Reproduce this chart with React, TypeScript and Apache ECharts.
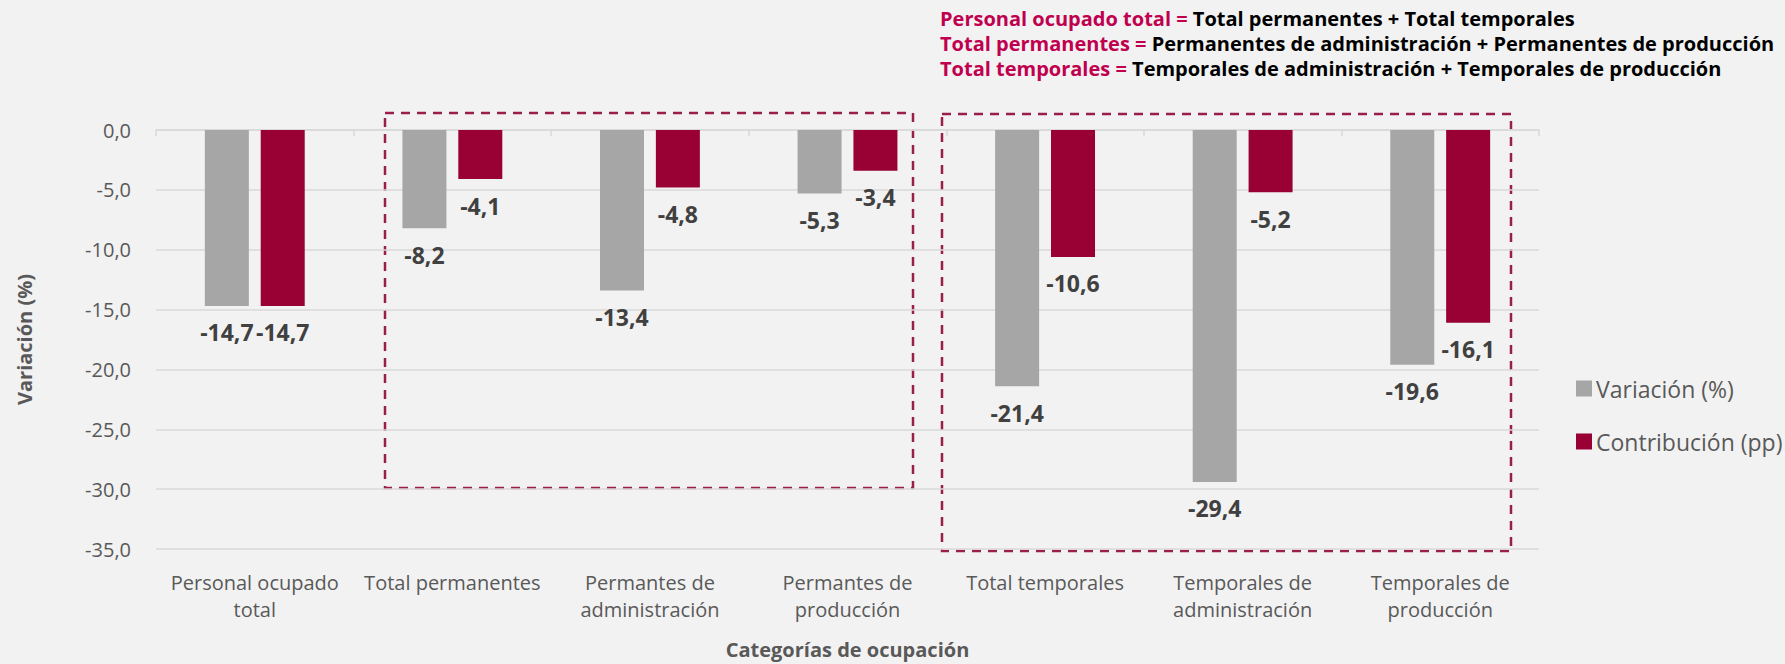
import React, { useEffect, useRef } from "react";
import * as echarts from "echarts";

const categories = [
  "Personal ocupado\ntotal",
  "Total permanentes",
  "Permantes de\nadministración",
  "Permantes de\nproducción",
  "Total temporales",
  "Temporales de\nadministración",
  "Temporales de\nproducción",
];
const variacion = [-14.7, -8.2, -13.4, -5.3, -21.4, -29.4, -19.6];
const contribucion = [-14.7, -4.1, -4.8, -3.4, -10.6, -5.2, -16.1];
const seriesNames = ["Variación (%)", "Contribución (pp)"];
const yAxisTitle = "Variación (%)";
const xAxisTitle = "Categorías de ocupación";
const notes = [
  ["Personal ocupado total = ", "Total permanentes + Total temporales"],
  ["Total permanentes = ", "Permanentes de administración + Permanentes de producción"],
  ["Total temporales = ", "Temporales de administración + Temporales de producción"],
];

const fmt = (v: number) => v.toFixed(1).replace(".", ",");
const FONT = "'Open Sans', sans-serif";

export default function App() {
  const ref = useRef<HTMLDivElement>(null);
  useEffect(() => {
    document.body.style.margin = "0";
    const chart = echarts.init(ref.current!, null, { renderer: "svg" });
    const labelCfg = {
      show: true,
      position: "bottom",
      distance: 15,
      fontFamily: FONT,
      fontWeight: "bold",
      fontSize: 23,
      color: "#404040",
      formatter: (p: any) => fmt(p.value),
    };
    const boxStyle = { fill: "none", stroke: "#9b1d4b", lineWidth: 2.5, lineDash: [9, 7] };
    chart.setOption({
      animation: false,
      backgroundColor: "#f2f2f2",
      textStyle: { fontFamily: FONT },
      grid: { left: 156, right: 246, top: 130, bottom: 113 },
      legend: {
        orient: "vertical",
        left: 1571,
        top: 372,
        itemWidth: 16,
        itemHeight: 16,
        itemGap: 30,
        icon: "rect",
        textStyle: { fontFamily: FONT, fontSize: 23, color: "#595959", padding: [0, 0, 0, -1] },
        data: seriesNames,
      },
      xAxis: [
        {
          type: "category",
          data: categories,
          position: "bottom",
          axisLine: { show: false, onZero: false },
          axisTick: { show: false },
          axisLabel: {
            fontFamily: FONT,
            fontSize: 20,
            color: "#595959",
            lineHeight: 27,
            margin: 20,
            interval: 0,
          },
          name: xAxisTitle,
          nameLocation: "middle",
          nameGap: 90,
          nameTextStyle: { fontFamily: FONT, fontSize: 20, fontWeight: "bold", color: "#595959" },
        },
        {
          type: "category",
          data: categories,
          position: "top",
          axisLine: { show: true, onZero: false, lineStyle: { color: "#d9d9d9", width: 1.5 } },
          axisTick: { show: true, inside: true, length: 6, lineStyle: { color: "#d9d9d9", width: 1.5 } },
          axisLabel: { show: false },
        },
      ],
      yAxis: {
        type: "value",
        min: -35,
        max: 0,
        interval: 5,
        axisLine: { show: false },
        axisTick: { show: false },
        splitLine: { lineStyle: { color: "#d9d9d9", width: 1.5 } },
        axisLabel: {
          fontFamily: FONT,
          fontSize: 20,
          color: "#595959",
          margin: 25,
          formatter: (v: number) => fmt(v),
        },
        name: yAxisTitle,
        nameLocation: "middle",
        nameGap: 122,
        nameRotate: 90,
        nameTextStyle: { fontFamily: FONT, fontSize: 20, fontWeight: "bold", color: "#595959" },
      },
      series: [
        {
          name: seriesNames[0],
          type: "bar",
          data: variacion,
          barWidth: 44,
          barGap: "27%",
          itemStyle: { color: "#a6a6a6" },
          label: labelCfg,
        },
        {
          name: seriesNames[1],
          type: "bar",
          data: contribucion,
          barWidth: 44,
          itemStyle: { color: "#990033" },
          label: labelCfg,
        },
      ],
      graphic: [
        {
          type: "rect",
          shape: { x: 385, y: 113, width: 528, height: 375 },
          style: boxStyle,
          silent: true,
        },
        {
          type: "rect",
          shape: { x: 942, y: 114, width: 569, height: 437 },
          style: boxStyle,
          silent: true,
        },
        ...notes.map((n, i) => ({
          type: "text",
          left: 940,
          top: 8 + i * 25,
          style: {
            text: `{a|${n[0]}}{b|${n[1]}}`,
            rich: {
              a: { fontFamily: FONT, fontSize: 20, fontWeight: "bold", fill: "#c0004f" },
              b: { fontFamily: FONT, fontSize: 20, fontWeight: "bold", fill: "#000000" },
            },
          },
        })),
      ],
    });
    return () => chart.dispose();
  }, []);
  return <div ref={ref} style={{ width: 1785, height: 664 }} />;
}
